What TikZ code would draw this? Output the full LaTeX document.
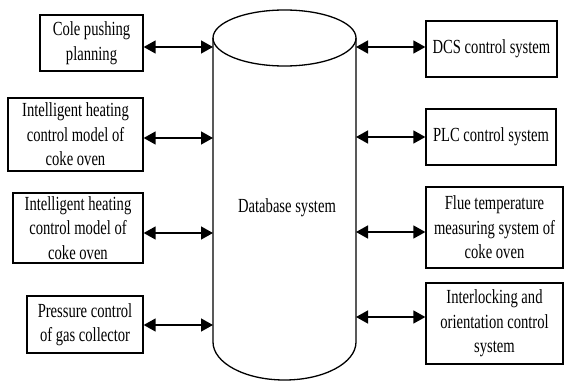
\documentclass[tikz,border=0pt]{standalone}
\usepackage{fontspec}
\setmainfont[FakeStretch=0.73]{Liberation Serif}
\usetikzlibrary{arrows.meta}
\tikzstyle{arrow} = [line width=1.4pt, {Triangle[length=12pt,width=13pt]}-{Triangle[length=12pt,width=13pt]}]
\tikzstyle{box} = [rectangle, draw, line width=1.3pt, align=center, inner sep=2pt, font=\fontsize{20}{24.5}\selectfont]

\begin{document}
\begin{tikzpicture}[x=1pt, y=-1pt]
    \useasboundingbox (0,0) rectangle (564,380);

    % Database cylinder
    \draw[line width=1.3pt] (284.5,38) ellipse [x radius=71.5, y radius=28];
    \draw[line width=1.3pt] (213,38) -- (213,342) arc[start angle=180, end angle=0, x radius=71.5, y radius=38] -- (356,38);
    \node[font=\fontsize{20}{24.5}\selectfont] (db) at (287,208) {Database system};

    % Left systems
    \node[box, minimum width=103pt, minimum height=56pt] (cole) at (91.5,43) {Cole pushing\\planning};
    \node[box, minimum width=135pt, minimum height=73pt] (heatA) at (75.5,134.5) {Intelligent heating\\control model of\\coke oven};
    \node[box, minimum width=130pt, minimum height=70pt] (heatB) at (78,228) {Intelligent heating\\control model of\\coke oven};
    \node[box, minimum width=116pt, minimum height=57pt] (press) at (85,324.5) {Pressure control\\of gas collector};

    % Right systems
    \node[box, minimum width=131pt, minimum height=56pt] (dcs) at (491.5,49) {DCS control system};
    \node[box, minimum width=130pt, minimum height=56pt] (plc) at (491,137) {PLC control system};
    \node[box, minimum width=137pt, minimum height=81pt] (flue) at (494.5,227.5) {Flue temperature\\measuring system of\\coke oven};
    \node[box, minimum width=137pt, minimum height=81pt] (lock) at (494.5,323.5) {Interlocking and\\orientation control\\system};

    % Ports on the cylinder
    \coordinate (dbL1) at (213,47);
    \coordinate (dbL2) at (213,138);
    \coordinate (dbL3) at (213,233);
    \coordinate (dbL4) at (213,325);
    \coordinate (dbR1) at (356,47);
    \coordinate (dbR2) at (356,137);
    \coordinate (dbR3) at (356,232);
    \coordinate (dbR4) at (356,317);

    % Arrows
    \draw[arrow] (cole.east |- dbL1) -- (dbL1);
    \draw[arrow] (heatA.east |- dbL2) -- (dbL2);
    \draw[arrow] (heatB.east |- dbL3) -- (dbL3);
    \draw[arrow] (press.east |- dbL4) -- (dbL4);
    \draw[arrow] (dbR1) -- (dcs.west |- dbR1);
    \draw[arrow] (dbR2) -- (plc.west |- dbR2);
    \draw[arrow] (dbR3) -- (flue.west |- dbR3);
    \draw[arrow] (dbR4) -- (lock.west |- dbR4);
\end{tikzpicture}
\end{document}
